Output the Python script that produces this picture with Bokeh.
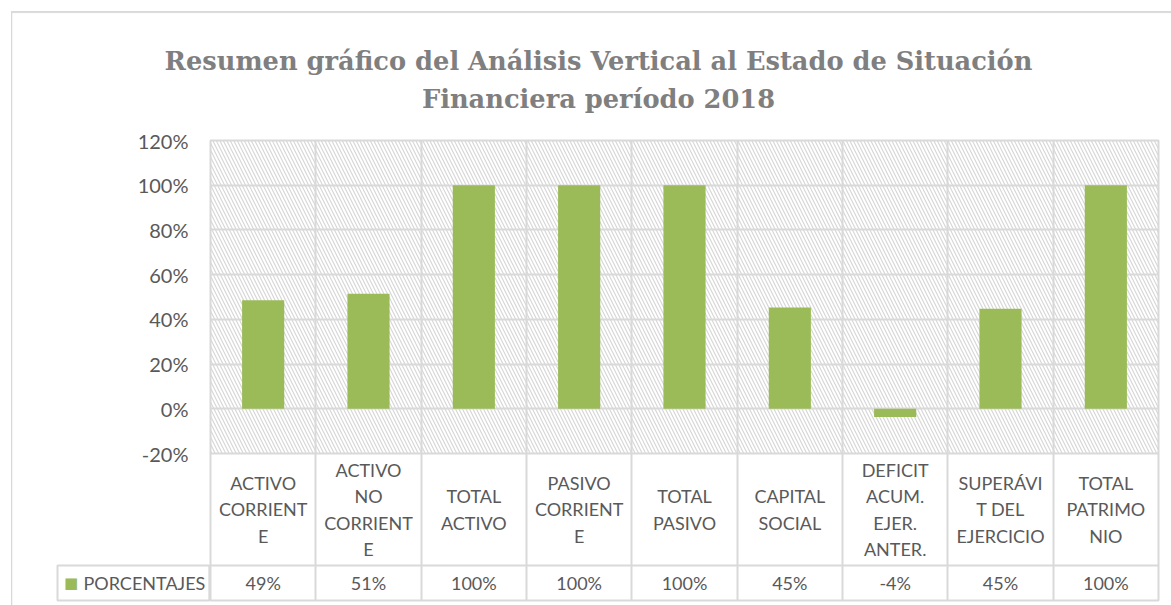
from bokeh.plotting import figure
from bokeh.models import (Range1d, FixedTicker, NumeralTickFormatter, BoxAnnotation,
                          Label, Span, Grid)
from bokeh.core.properties import value
from bokeh.embed import file_html
from bokeh.resources import INLINE

# ---------------- data ----------------
title_lines = ["Resumen gráfico del Análisis Vertical al Estado de Situación",
               "Financiera período 2018"]
categories = ["ACTIVO\nCORRIENT\nE", "ACTIVO\nNO\nCORRIENT\nE", "TOTAL\nACTIVO",
              "PASIVO\nCORRIENT\nE", "TOTAL\nPASIVO", "CAPITAL\nSOCIAL",
              "DEFICIT\nACUM.\nEJER.\nANTER.", "SUPERÁVI\nT DEL\nEJERCICIO",
              "TOTAL\nPATRIMO\nNIO"]
series_name = "PORCENTAJES"
values = [0.485, 0.515, 1.0, 1.0, 1.0, 0.453, -0.037, 0.447, 1.0]
value_labels = ["49%", "51%", "100%", "100%", "100%", "45%", "-4%", "45%", "100%"]
y_ticks = [-0.2, 0.0, 0.2, 0.4, 0.6, 0.8, 1.0, 1.2]

# ---------------- layout (canvas px) ----------------
W, H = 1171, 605
FL, FR, FT = 210, 1158, 140        # frame left / right / top
Y_LOW = 453                        # canvas y of lowest tick (-20%)
ROW1, ROW2 = 112, 35               # data-table row heights
FB = Y_LOW + ROW1 + ROW2           # frame bottom

n = len(categories)
xs = list(range(n))
y_min, y_max = min(y_ticks), max(y_ticks)
ppu = (Y_LOW - FT) / (y_max - y_min)
upx = (FR - FL) / n


def xd(cx):
    return -0.5 + (cx - FL) / upx


def yd(cy):
    return y_max - (cy - FT) / ppu


GRID = "#d9d9d9"
TXT = "#595959"
BAR = "#9BBB59"

p = figure(width=W, height=H, output_backend="svg", toolbar_location=None,
           x_range=Range1d(-0.5, n - 0.5), y_range=Range1d(yd(FB), y_max),
           x_axis_type=None,
           min_border_left=FL, min_border_right=W - FR, min_border_top=FT,
           min_border_bottom=H - FB,
           outline_line_color=GRID, outline_line_width=2,
           background_fill_color="white", border_fill_color="white")

# y axis
ax = p.yaxis[0]
ax.ticker = FixedTicker(ticks=y_ticks)
ax.formatter = NumeralTickFormatter(format="0%")
ax.axis_line_color = None
ax.major_tick_line_color = None
ax.minor_tick_line_color = None
ax.major_tick_in = 0
ax.major_tick_out = 0
ax.major_label_standoff = 22
ax.major_label_text_font = "Lato"
ax.major_label_text_font_size = "20px"
ax.major_label_text_color = TXT

# grids
p.ygrid.ticker = FixedTicker(ticks=y_ticks)
p.ygrid.grid_line_color = GRID
p.ygrid.grid_line_width = 2
xgrid = Grid(dimension=0, ticker=FixedTicker(ticks=[i - 0.5 for i in range(n + 1)]),
             grid_line_color=GRID, grid_line_width=2)
p.add_layout(xgrid)

# hatched plot area
hatch = BoxAnnotation(left=-0.5, right=n - 0.5, bottom=y_min, top=y_max,
                      fill_color=None, line_color=None,
                      hatch_pattern="\\", hatch_color="#d7d7d7",
                      hatch_scale=7, hatch_weight=1.2, level="image")
p.add_layout(hatch)

# bars
p.vbar(x=xs, top=values, width=0.4, fill_color=BAR, line_color=None)

# data table
p.add_layout(Span(location=yd(Y_LOW + ROW1), dimension="width",
                  line_color=GRID, line_width=2))
p.text(x=xs, y=[yd(Y_LOW + ROW1 / 2)] * n, text=categories,
       text_font=value("Lato"), text_font_size="18px", text_color=TXT,
       text_align="center", text_baseline="middle", text_line_height=1.2)
p.text(x=xs, y=[yd(Y_LOW + ROW1 + ROW2 / 2)] * n, text=value_labels,
       text_font=value("Lato"), text_font_size="18px", text_color=TXT,
       text_align="center", text_baseline="middle")

# legend key cell (left of frame; put in the top side panel so it is not clipped
# and does not widen the left panel). padding = (left, right, top, bottom)
row_mid = Y_LOW + ROW1 + ROW2 / 2
p.add_layout(Label(x=xd(57), y=yd(row_mid), text=series_name,
                   text_font="Lato", text_font_size="18px", text_color=TXT,
                   text_align="left", text_baseline="middle",
                   border_line_color=GRID, border_line_width=2,
                   padding=(26, 4, 6, 7)), "above")
p.add_layout(Label(x=xd(70.5), y=yd(row_mid), text="■",
                   text_font="DejaVu Sans", text_font_size="15px", text_color=BAR,
                   text_align="center", text_baseline="middle"), "above")

# outer chart border: top edge (wide, thin) and left edge (tall, narrow)
p.add_layout(Label(x=xd(11), y=yd(11), text=" ",
                   text_font_size="1px", text_align="left", text_baseline="top",
                   border_line_color=GRID, border_line_width=1,
                   padding=(0, 1250, 0, 0)), "above")
p.add_layout(Label(x=xd(11), y=yd(11), text=" ",
                   text_font_size="1px", text_align="left", text_baseline="top",
                   border_line_color=GRID, border_line_width=1,
                   padding=(0, 0, 650, 0)), "left")

# title
for i, t in enumerate(title_lines):
    p.add_layout(Label(x=xd(598), y=yd(60 + 38 * i), text=t,
                       text_font="DejaVu Serif", text_font_style="bold",
                       text_font_size="25.7px", text_color="#7f7f7f",
                       text_align="center", text_baseline="alphabetic"), "above")

open("out.html", "w").write(file_html(p, INLINE))
